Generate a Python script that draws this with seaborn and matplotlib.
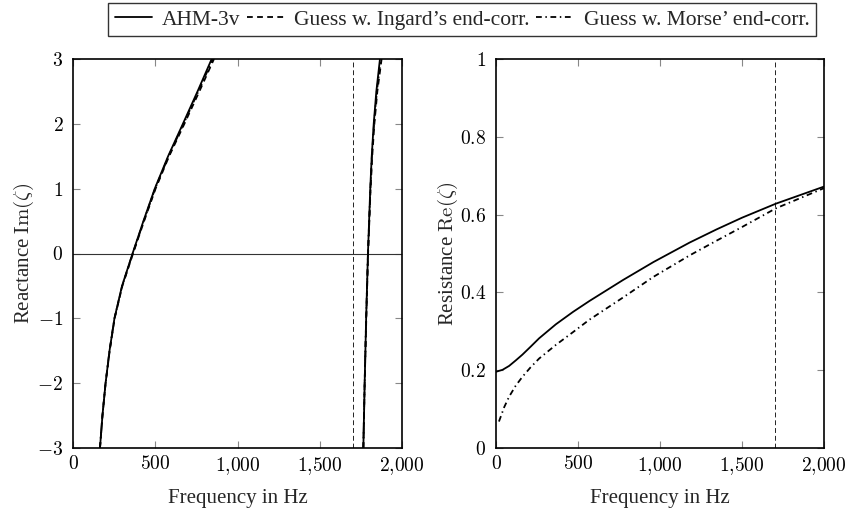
import numpy as np
import pandas as pd
import matplotlib
matplotlib.use("Agg")
import matplotlib.pyplot as plt
from matplotlib.ticker import FuncFormatter, FixedLocator
import seaborn as sns

# ---------------- data ----------------
# Reactance, first branch
react1_y = [-3.0, -2.5, -2.0, -1.5, -1.0, -0.5, 0.0, 0.5, 1.0, 1.5, 2.0, 2.5, 3.0]
react1_f = [164, 179, 198, 222, 252, 298, 362, 428, 497, 578, 668, 757, 843]   # AHM-3v
ing1_f = [164, 179, 198, 223, 253, 300, 365, 432, 502, 584, 677, 768, 857]     # Ingard
mor1_f = [164, 179, 198, 222, 252, 299, 363, 430, 499, 581, 672, 762, 850]     # Morse
# Reactance, second branch
react2_y = [-3.0, -2.0, -1.0, 0.0, 1.0, 1.5, 2.0, 2.5, 3.0]
react2_f = [1765, 1773, 1782, 1793, 1807, 1816, 1828, 1844, 1866]              # AHM-3v
ing2_f = [1765, 1773, 1783, 1794, 1809, 1819, 1832, 1850, 1876]                # Ingard
mor2_f = [1765, 1773, 1782, 1793, 1808, 1817, 1830, 1847, 1871]                # Morse

# Resistance
res_ahm_f = [0, 40, 80, 120, 161, 210, 263, 365, 470, 570, 775, 960, 1180, 1345, 1500, 1706, 2000]
res_ahm_y = [0.196, 0.201, 0.211, 0.225, 0.240, 0.260, 0.282, 0.318, 0.350, 0.378, 0.432,
             0.478, 0.528, 0.562, 0.592, 0.628, 0.672]
res_mor_f = [18, 50, 80, 120, 161, 210, 263, 365, 470, 570, 775, 960, 1180, 1345, 1500, 1706, 2000]
res_mor_y = [0.068, 0.105, 0.132, 0.160, 0.183, 0.207, 0.230, 0.265, 0.298, 0.330, 0.387,
             0.440, 0.495, 0.533, 0.568, 0.616, 0.668]

f_marker = 1700  # vertical dashed reference line

labels = ["AHM-3v", "Guess w. Ingard\u2019s end-corr.", "Guess w. Morse\u2019 end-corr."]
x_ticks = [0, 500, 1000, 1500, 2000]
left_yticks = [-3, -2, -1, 0, 1, 2, 3]
right_yticks = [0, 0.2, 0.4, 0.6, 0.8, 1]

# ---------------- styling ----------------
sns.set_theme(style="ticks")
plt.rcParams["font.family"] = ["Liberation Serif", "DejaVu Serif"]
plt.rcParams["mathtext.fontset"] = "cm"
plt.rcParams["axes.linewidth"] = 1.2

LW = 1.3
DASHED = (0, (3.2, 2.4))
DASHDOT = (0, (3.2, 2.0, 0.8, 2.0))

fig = plt.figure(figsize=(8.5, 5.12), dpi=100)
axL = fig.add_axes([73 / 850, 64 / 512, 329 / 850, 389 / 512])
axR = fig.add_axes([496 / 850, 64 / 512, 328 / 850, 389 / 512])

def seg(ax, f, y, ls, label=None):
    sns.lineplot(x=f, y=y, ax=ax, color="black", linewidth=LW, linestyle=ls,
                 label=label, legend=False, sort=False, estimator=None)

# left panel
axL.axhline(0, color="#333333", linewidth=0.8, zorder=1)
axL.axvline(f_marker, color="#222222", linewidth=0.7, linestyle=(0, (5, 3)), zorder=1)
seg(axL, react1_f, react1_y, "-", labels[0])
seg(axL, ing1_f, react1_y, DASHED, labels[1])
seg(axL, mor1_f, react1_y, DASHDOT, labels[2])
seg(axL, react2_f, react2_y, "-")
seg(axL, ing2_f, react2_y, DASHED)
seg(axL, mor2_f, react2_y, DASHDOT)
axL.set_xlim(0, 2000)
axL.set_ylim(-3, 3)

# right panel
axR.axvline(f_marker, color="#222222", linewidth=0.7, linestyle=(0, (5, 3)), zorder=1)
seg(axR, res_ahm_f, res_ahm_y, "-")
seg(axR, res_mor_f, res_mor_y, DASHDOT)
axR.set_xlim(0, 2000)
axR.set_ylim(0, 1)

def xfmt(v, pos):
    s = f"{int(round(v)):,}".replace(",", "{,}")
    return f"${s}$"

def yfmt_int(v, pos):
    return f"${int(round(v))}$"

def yfmt_dec(v, pos):
    if abs(v - round(v)) < 1e-9:
        return f"${int(round(v))}$"
    return f"${v:.1f}$"

for ax in (axL, axR):
    ax.xaxis.set_major_locator(FixedLocator(x_ticks))
    ax.xaxis.set_major_formatter(FuncFormatter(xfmt))
    ax.tick_params(direction="in", length=5, width=0.8, color="#888888",
                   top=True, right=True, labelsize=14, labelcolor="black")
    ax.tick_params(axis="x", pad=5)
    ax.tick_params(axis="y", pad=7)
    for sp in ax.spines.values():
        sp.set_visible(True)
        sp.set_color("black")
        sp.set_linewidth(1.2)
    ax.set_xlabel("Frequency in Hz", fontsize=15, labelpad=9)

axL.yaxis.set_major_locator(FixedLocator(left_yticks))
axL.yaxis.set_major_formatter(FuncFormatter(yfmt_int))
axR.yaxis.set_major_locator(FixedLocator(right_yticks))
axR.yaxis.set_major_formatter(FuncFormatter(yfmt_dec))
axL.set_ylabel(r"Reactance $\mathrm{Im}(\zeta)$", fontsize=15, labelpad=0.5)
axR.set_ylabel(r"Resistance $\mathrm{Re}(\zeta)$", fontsize=15, labelpad=0.0)

handles, labs = axL.get_legend_handles_labels()
leg = fig.legend(handles, labs, loc="upper center", bbox_to_anchor=(462 / 850, 1 - 3 / 512),
                 ncol=3, frameon=True, fancybox=False, fontsize=15.5,
                 handlelength=1.75, handletextpad=0.45, columnspacing=0.3,
                 borderpad=0.3, borderaxespad=0.0)
leg.get_frame().set_edgecolor("black")
leg.get_frame().set_linewidth(1.0)

fig.savefig("out.png", dpi=100)
